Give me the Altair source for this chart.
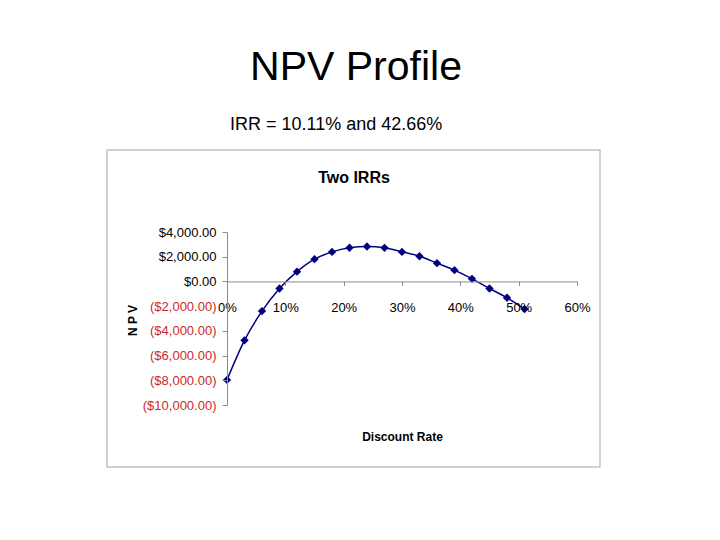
import altair as alt
import pandas as pd

rates = [0.00, 0.03, 0.06, 0.09, 0.12, 0.15, 0.18, 0.21, 0.24,
         0.27, 0.30, 0.33, 0.36, 0.39, 0.42, 0.45, 0.48, 0.51]
npv = [-7970, -4770, -2400, -570, 790, 1800, 2390, 2730, 2830,
       2720, 2390, 2040, 1480, 910, 210, -570, -1320, -2240]

y_ticks = [4000, 2000, 0, -2000, -4000, -6000, -8000, -10000]
x_ticks = [0.0, 0.1, 0.2, 0.3, 0.4, 0.5, 0.6]

slide_title = "NPV Profile"
slide_subtitle = "IRR = 10.11% and 42.66%"
chart_title = "Two IRRs"

df = pd.DataFrame({"rate": rates, "npv": npv})

NAVY = "#000080"
GRAY = "#8c8c8c"
FONT = "Liberation Sans, Arial"
W, H = 350, 173

x_enc = alt.X(
    "rate:Q",
    scale=alt.Scale(domain=[0, 0.6], nice=False),
    axis=alt.Axis(
        values=x_ticks, tickCount=20, format=".0%", grid=False, zindex=1,
        offset=-(H - H * 4000 / 14000),
        domainColor=GRAY, tickColor=GRAY, tickSize=4,
        labelFont=FONT, labelFontSize=13, labelColor="black",
        labelPadding=16, labelFlush=False, labelOverlap=False,
        title="Discount Rate", titleFont=FONT, titleFontSize=12,
        titleFontWeight="bold", titleY=159, titleBaseline="alphabetic",
        titleColor="black",
    ),
)
y_enc = alt.Y(
    "npv:Q",
    scale=alt.Scale(domain=[-10000, 4000], nice=False),
    axis=alt.Axis(
        values=y_ticks, tickCount=20, grid=False, zindex=1, labelOverlap=False,
        labelExpr="datum.value < 0 ? '($' + format(-datum.value, ',.2f') + ')' : '$' + format(datum.value, ',.2f') + '\u00a0'",
        labelColor=alt.condition("datum.value < 0", alt.value("#cc2a2a"), alt.value("black")),
        domainColor=GRAY, tickColor=GRAY, tickSize=5,
        labelFont=FONT, labelFontSize=13, labelPadding=6,
        title="N P V", titleFont=FONT, titleFontSize=12, titleFontWeight="bold",
        titleX=-95, titleY=88, titleAngle=270, titleAlign="center",
        titleBaseline="middle", titleColor="black",
    ),
)

base = alt.Chart(df)
line = base.mark_line(color=NAVY, strokeWidth=1.5, interpolate="monotone").encode(x=x_enc, y=y_enc)
pts = base.mark_point(shape="diamond", filled=True, size=70, color=NAVY, opacity=1).encode(x="rate:Q", y="npv:Q")

one = alt.Data(values=[{"k": 1}])
box = alt.Chart(one).mark_rect(fill="transparent", stroke="#c4c4c4", strokeWidth=1.5).encode(
    x=alt.value(-120), x2=alt.value(373), y=alt.value(-82), y2=alt.value(235))
t1 = alt.Chart(one).mark_text(text=slide_title, font=FONT, fontSize=41,
                              align="center", baseline="alphabetic", color="black").encode(
    x=alt.value(129), y=alt.value(-152))
t2 = alt.Chart(one).mark_text(text=slide_subtitle, font=FONT, fontSize=18,
                              align="left", baseline="alphabetic", color="black").encode(
    x=alt.value(3), y=alt.value(-102))
t3 = alt.Chart(one).mark_text(text=chart_title, font=FONT, fontSize=16, fontWeight="bold",
                              align="center", baseline="alphabetic", color="black").encode(
    x=alt.value(127), y=alt.value(-49))

chart = alt.layer(box, t1, t2, t3, line, pts).properties(
    width=W, height=H,
    autosize=alt.AutoSizeParams(type="none"),
    padding={"left": 219, "top": 224, "right": 135, "bottom": 127},
    background="white",
).configure_view(strokeWidth=0)

chart.save("out.html", embed_options={"renderer": "svg", "actions": False})
